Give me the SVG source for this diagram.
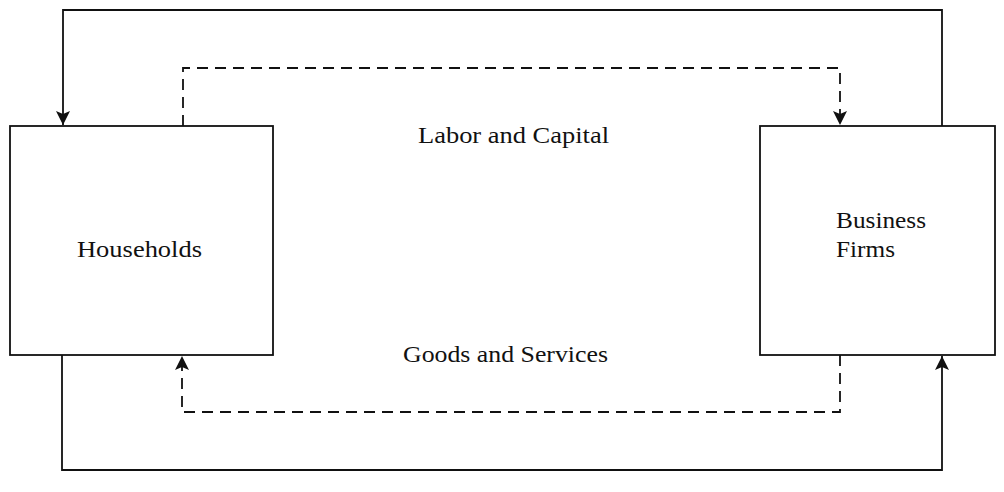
<svg xmlns="http://www.w3.org/2000/svg" width="1004" height="492" viewBox="0 0 1004 492">
<style>
.box{fill:#fff;stroke:#111;stroke-width:1.8}
.solid{fill:none;stroke:#111;stroke-width:1.8}
.dash{fill:none;stroke:#111;stroke-width:1.8;stroke-dasharray:11 7}
.lbl{font-family:"Liberation Serif","Times New Roman",serif;font-size:23px;fill:#111}
</style>
<defs>
<marker id="arr" markerUnits="userSpaceOnUse" markerWidth="14" markerHeight="16" viewBox="0 0 14 16" refX="14" refY="7" orient="auto">
<path d="M0,0 L14,7 L0,14 L3,7 Z" fill="#111"/>
</marker>
</defs>
<rect width="1004" height="492" fill="#fff"/>
<g id="connectors">
<path class="solid" d="M942,126 V10 H63 V125" marker-end="url(#arr)"/>
<path class="solid" d="M62,355 V470 H942 V356" marker-end="url(#arr)"/>
<path class="dash" d="M183,126 V68 H840 V125" marker-end="url(#arr)"/>
<path class="dash" d="M840,355 V412 H182 V356" marker-end="url(#arr)"/>
</g>
<g id="households">
<rect class="box" x="10" y="126" width="263" height="229"/>
<text class="lbl" x="77" y="257" textLength="125" lengthAdjust="spacingAndGlyphs">Households</text>
</g>
<g id="business">
<rect class="box" x="760" y="126" width="235" height="229"/>
<text class="lbl" x="836" y="228" textLength="90" lengthAdjust="spacingAndGlyphs">Business</text>
<text class="lbl" x="836" y="257" textLength="59" lengthAdjust="spacingAndGlyphs">Firms</text>
</g>
<g id="labels">
<text class="lbl" x="418" y="143" textLength="191" lengthAdjust="spacingAndGlyphs">Labor and Capital</text>
<text class="lbl" x="403" y="362" textLength="205" lengthAdjust="spacingAndGlyphs">Goods and Services</text>
</g>
</svg>
